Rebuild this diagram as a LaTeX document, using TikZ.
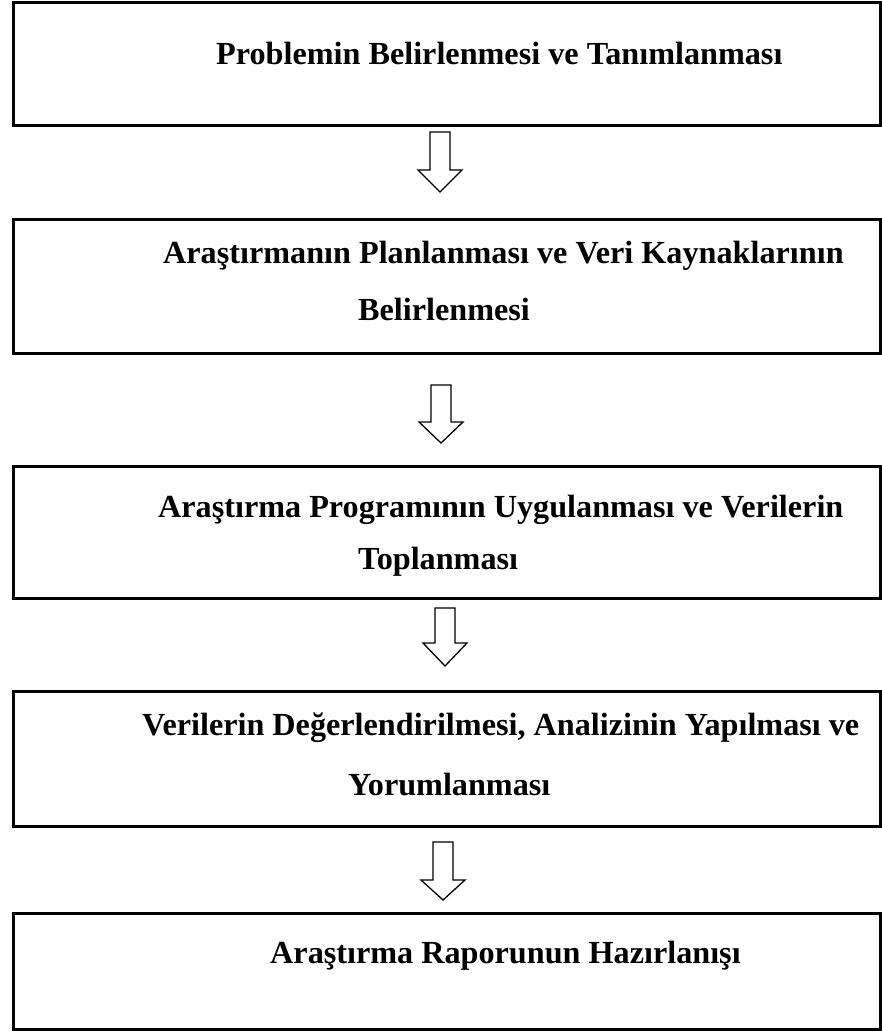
\documentclass[tikz,border=0pt]{standalone}
\usepackage{fontspec}
\setmainfont{Liberation Serif}
\begin{document}
\begin{tikzpicture}[x=1pt,y=-1pt,
  box/.style={draw=black,line width=2.8pt,rectangle,inner sep=0pt,anchor=north west},
  lbl/.style={anchor=base west,inner sep=0pt,font=\fontsize{32.2}{38}\selectfont\bfseries},
  blockarrow/.style={draw=black,line width=1.3pt,fill=white,line join=miter}]
\useasboundingbox (0,0) rectangle (882,1032);
\node[box,minimum width=867pt,minimum height=123pt] (b1) at (12,1) {};
\node[box,minimum width=867pt,minimum height=134pt] (b2) at (12,218) {};
\node[box,minimum width=867pt,minimum height=132pt] (b3) at (12,465) {};
\node[box,minimum width=867pt,minimum height=135pt] (b4) at (12,690) {};
\node[box,minimum width=867pt,minimum height=116pt] (b5) at (12,912) {};
\node[lbl] (t1) at (216,65) {Problemin Belirlenmesi ve Tanımlanması};
\node[lbl] (t2a) at (163,263) {Araştırmanın Planlanması ve Veri Kaynaklarının};
\node[lbl] (t2b) at (358,320) {Belirlenmesi};
\node[lbl] (t3a) at (158,517) {Araştırma Programının Uygulanması ve Verilerin};
\node[lbl] (t3b) at (358,569) {Toplanması};
\node[lbl] (t4a) at (142,735) {Verilerin Değerlendirilmesi, Analizinin Yapılması ve};
\node[lbl] (t4b) at (348,795) {Yorumlanması};
\node[lbl] (t5) at (270,963) {Araştırma Raporunun Hazırlanışı};
% block arrows: top-center coordinates
\coordinate (a1) at (440,132);
\coordinate (a2) at (441,385);
\coordinate (a3) at (445,608);
\coordinate (a4) at (443,842);
\draw[blockarrow] (a1) ++(-10,0) -- ++(20,0) -- ++(0,38) -- ++(12,0) -- ++(-22,22) -- ++(-22,-22) -- ++(12,0) -- cycle;
\draw[blockarrow] (a2) ++(-10,0) -- ++(20,0) -- ++(0,37) -- ++(12,0) -- ++(-22,21) -- ++(-22,-21) -- ++(12,0) -- cycle;
\draw[blockarrow] (a3) ++(-10,0) -- ++(20,0) -- ++(0,35) -- ++(12,0) -- ++(-22,23) -- ++(-22,-23) -- ++(12,0) -- cycle;
\draw[blockarrow] (a4) ++(-10,0) -- ++(20,0) -- ++(0,38) -- ++(12,0) -- ++(-22,20) -- ++(-22,-20) -- ++(12,0) -- cycle;
\end{tikzpicture}
\end{document}
